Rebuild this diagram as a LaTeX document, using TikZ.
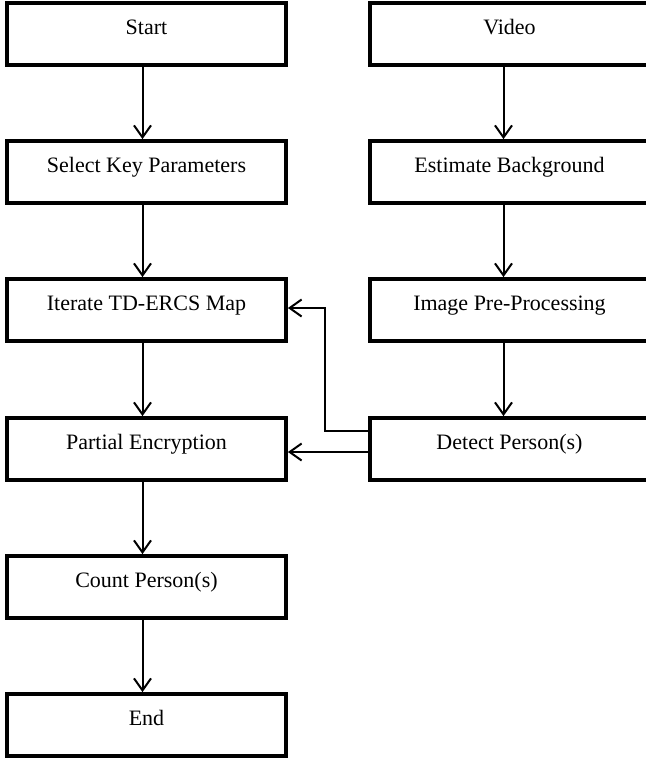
\documentclass[tikz,border=0pt]{standalone}
\usepackage{fontspec}
\setmainfont{Liberation Serif}
\usetikzlibrary{arrows.meta}

\begin{document}
\begin{tikzpicture}[
    node distance=69pt,
    box/.style={rectangle, draw, line width=1.9pt, minimum width=139.5pt, minimum height=31pt, text height=1.6ex, text depth=1.6ex, font=\fontsize{11}{13}\selectfont},
    arrow/.style={line width=1pt, -{Straight Barb[length=6pt, width=8.5pt, line width=1pt]}}
]
    \useasboundingbox (0,0) rectangle (322.5pt,-381pt);

    \node [box] at (73.25pt,-17pt) (start) {Start};
    \node [box, below of=start] (select) {Select Key Parameters};
    \node [box, below of=select] (iterate) {Iterate TD-ERCS Map};
    \node [box, below of=iterate, yshift=-0.5pt] (partial) {Partial Encryption};
    \node [box, below of=partial] (count) {Count Person(s)};
    \node [box, below of=count] (end) {End};

    \node [box] at (254.75pt,-17pt) (video) {Video};
    \node [box, below of=video] (background) {Estimate Background};
    \node [box, below of=background] (preproc) {Image Pre-Processing};
    \node [box, below of=preproc, yshift=-0.5pt] (detect) {Detect Person(s)};

    \draw [arrow] ([xshift=-2pt]start.south) -- ([xshift=-2pt]select.north);
    \draw [arrow] ([xshift=-2pt]select.south) -- ([xshift=-2pt]iterate.north);
    \draw [arrow] ([xshift=-2pt]iterate.south) -- ([xshift=-2pt]partial.north);
    \draw [arrow] ([xshift=-2pt]partial.south) -- ([xshift=-2pt]count.north);
    \draw [arrow] ([xshift=-2pt]count.south) -- ([xshift=-2pt]end.north);

    \draw [arrow] ([xshift=-3pt]video.south) -- ([xshift=-3pt]background.north);
    \draw [arrow] ([xshift=-3pt]background.south) -- ([xshift=-3pt]preproc.north);
    \draw [arrow] ([xshift=-3pt]preproc.south) -- ([xshift=-3pt]detect.north);

    \draw [arrow] ([yshift=-1.5pt]detect.west) -- ([yshift=-1.5pt]partial.east);
    \draw [arrow] ([yshift=9pt]detect.west) -- ++(-21.5pt,0) |- ([yshift=1pt]iterate.east);
\end{tikzpicture}
\end{document}
